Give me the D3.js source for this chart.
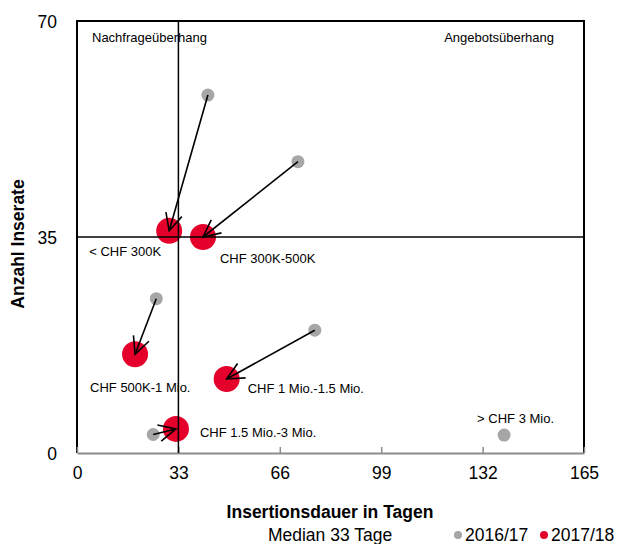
<!DOCTYPE html>
<html>
<head>
<meta charset="utf-8">
<script src="https://cdn.jsdelivr.net/npm/d3@7"></script>
<style>
  body { margin: 0; background: #fff; }
  svg text { font-family: "Liberation Sans", Arial, sans-serif; fill: #000; }
</style>
</head>
<body>
<div id="chart"></div>
<script>
// Anzahl Inserate vs. Insertionsdauer, by price class
var categories = ["< CHF 300K", "CHF 300K-500K", "CHF 500K-1 Mio.", "CHF 1 Mio.-1.5 Mio.", "CHF 1.5 Mio.-3 Mio.", "> CHF 3 Mio."];
var days1617 = [42.6, 71.9, 25.8, 77.4, 24.8, 139];
var ads1617 = [58, 47.2, 25, 19.9, 3, 2.9];
var days1718 = [30, 41, 18.9, 48.7, 32.2, null];
var ads1718 = [36, 35, 16, 12, 3.9, null];
var xTicks = [0, 33, 66, 99, 132, 165];
var yTicks = [0, 35, 70];
var medianDays = 33;
var medianAds = 35;
var seriesNames = ["2016/17", "2017/18"];

var width = 621, height = 544;
var margin = { top: 21, right: 37, bottom: 91, left: 77 };

var svg = d3.select("#chart").append("svg")
  .attr("width", width)
  .attr("height", height);

var x = d3.scaleLinear().domain([0, 165]).range([margin.left, width - margin.right]);
var y = d3.scaleLinear().domain([0, 70]).range([height - margin.bottom, margin.top]);

var red = "#e4002b", grey = "#a6a6a6";

// frame: black left/top/right, grey bottom axis
svg.append("path")
  .attr("d", `M${x(0)},${y(0)}V${y(70)}H${x(165)}V${y(0)}`)
  .attr("fill", "none").attr("stroke", "#000").attr("stroke-width", 2);

var xAxis = svg.append("g")
  .attr("transform", `translate(0,${y(0)})`)
  .call(d3.axisBottom(x).tickValues(xTicks).tickSize(-6).tickPadding(14).tickSizeOuter(0));
xAxis.select(".domain").attr("stroke", "#8c8c8c").attr("stroke-width", 2);
xAxis.selectAll(".tick line").attr("stroke", "#8c8c8c").attr("stroke-width", 1.5);
xAxis.selectAll(".tick text").attr("font-size", 17.5).attr("dy", "0.71em")
  .attr("font-family", "Liberation Sans, Arial, sans-serif");

var yAxis = svg.append("g")
  .attr("transform", `translate(${x(0)},0)`)
  .call(d3.axisLeft(y).tickValues(yTicks).tickSize(0).tickPadding(20));
yAxis.select(".domain").remove();
yAxis.selectAll(".tick text").attr("font-size", 17.5).attr("dy", "0.36em")
  .attr("font-family", "Liberation Sans, Arial, sans-serif");

// grey points 2016/17
svg.append("g").selectAll("circle")
  .data(categories.map((c, i) => i))
  .join("circle")
  .attr("cx", i => x(days1617[i]))
  .attr("cy", i => y(ads1617[i]))
  .attr("r", 6.5)
  .attr("fill", grey);

// red points 2017/18
var withNew = categories.map((c, i) => i).filter(i => days1718[i] != null);
svg.append("g").selectAll("circle")
  .data(withNew)
  .join("circle")
  .attr("cx", i => x(days1718[i]))
  .attr("cy", i => y(ads1718[i]))
  .attr("r", 13)
  .attr("fill", red);

// median lines
svg.append("line")
  .attr("x1", x(medianDays)).attr("x2", x(medianDays))
  .attr("y1", y(70)).attr("y2", y(0))
  .attr("stroke", "#000").attr("stroke-width", 1.5);
svg.append("line")
  .attr("x1", x(0)).attr("x2", x(165))
  .attr("y1", y(medianAds)).attr("y2", y(medianAds))
  .attr("stroke", "#000").attr("stroke-width", 1.5);

// arrows from old to new
var arrows = svg.append("g").attr("stroke", "#000").attr("stroke-width", 1.6).attr("fill", "none");
withNew.forEach(function (i) {
  var x0 = x(days1617[i]), y0 = y(ads1617[i]);
  var x1 = x(days1718[i]), y1 = y(ads1718[i]);
  var a = Math.atan2(y1 - y0, x1 - x0);
  var len = 19, spread = 0.45;
  arrows.append("line").attr("x1", x0).attr("y1", y0).attr("x2", x1).attr("y2", y1);
  arrows.append("path")
    .attr("d", `M${x1 - len * Math.cos(a - spread)},${y1 - len * Math.sin(a - spread)}` +
      `L${x1},${y1}L${x1 - len * Math.cos(a + spread)},${y1 - len * Math.sin(a + spread)}`);
});

// category labels, placed next to the newest point
var labelOffset = [[-80, 25], [17, 26], [-45, 38], [21, 14], [24, 8], [-27, -12]];
svg.append("g").selectAll("text")
  .data(categories.map((c, i) => i))
  .join("text")
  .attr("x", i => (days1718[i] != null ? x(days1718[i]) : x(days1617[i])) + labelOffset[i][0])
  .attr("y", i => (ads1718[i] != null ? y(ads1718[i]) : y(ads1617[i])) + labelOffset[i][1])
  .attr("font-size", 13)
  .text(i => categories[i]);

// quadrant labels
svg.append("text").attr("x", x(0) + 15).attr("y", y(70) + 21).attr("font-size", 13).text("Nachfrageüberhang");
svg.append("text").attr("x", x(165) - 30).attr("y", y(70) + 21).attr("font-size", 13)
  .attr("text-anchor", "end").text("Angebotsüberhang");

// axis titles
svg.append("text")
  .attr("transform", `translate(24,${(y(0) + y(70)) / 2 + 7}) rotate(-90)`)
  .attr("text-anchor", "middle").attr("font-size", 17.5).attr("font-weight", "bold")
  .text("Anzahl Inserate");
svg.append("text")
  .attr("x", 330).attr("y", 518)
  .attr("text-anchor", "middle").attr("font-size", 17.5).attr("font-weight", "bold")
  .text("Insertionsdauer in Tagen");
svg.append("text")
  .attr("x", 330).attr("y", 541)
  .attr("text-anchor", "middle").attr("font-size", 17.5)
  .text("Median " + medianDays + " Tage");

// legend
var legend = svg.append("g").attr("transform", "translate(458,535)");
[grey, red].forEach(function (c, k) {
  var g = legend.append("g").attr("transform", `translate(${k * 86},0)`);
  g.append("circle").attr("r", 4).attr("fill", c);
  g.append("text").attr("x", 7).attr("y", 6).attr("font-size", 17.5).text(seriesNames[k]);
});
</script>
</body>
</html>
